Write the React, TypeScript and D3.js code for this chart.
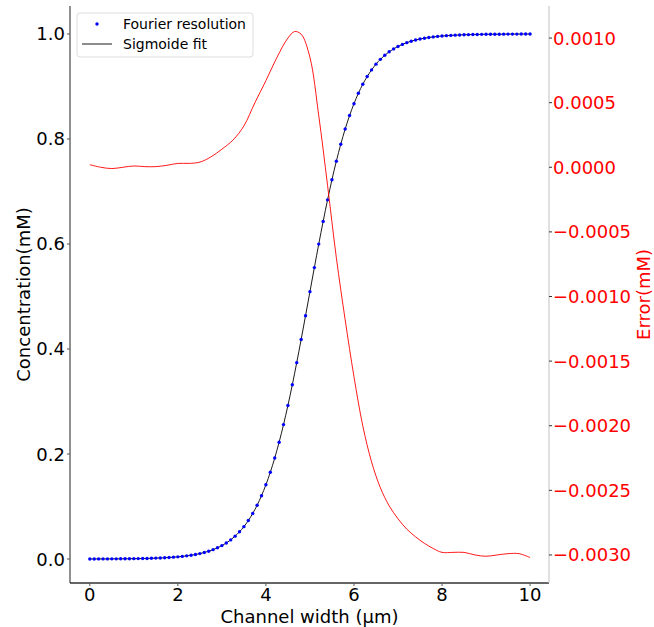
import React from "react";
import * as d3 from "d3";

// Sampling grid of the Fourier resolution (µm)
const xStart = 0;
const xStep = 0.1;

// Fourier resolution concentration (mM), one value per 0.1 µm from 0 to 10
const concentration = [
  0.0001, 0.0001, 0.0002, 0.0002, 0.0002, 0.0003, 0.0003, 0.0004, 0.0005, 0.0005,
  0.0007, 0.0008, 0.0010, 0.0011, 0.0014, 0.0017, 0.0020, 0.0024, 0.0029, 0.0035,
  0.0041, 0.0050, 0.0060, 0.0072, 0.0086, 0.0103, 0.0124, 0.0148, 0.0178, 0.0213,
  0.0255, 0.0305, 0.0364, 0.0435, 0.0518, 0.0616, 0.0732, 0.0867, 0.1024, 0.1206,
  0.1414, 0.1653, 0.1923, 0.2225, 0.2560, 0.2925, 0.3320, 0.3740, 0.4180, 0.4633,
  0.5092, 0.5550, 0.5998, 0.6430, 0.6841, 0.7224, 0.7578, 0.7899, 0.8189, 0.8446,
  0.8672, 0.8870, 0.9042, 0.9189, 0.9316, 0.9425, 0.9517, 0.9595, 0.9661, 0.9716,
  0.9763, 0.9802, 0.9835, 0.9862, 0.9885, 0.9904, 0.9920, 0.9933, 0.9944, 0.9954,
  0.9961, 0.9968, 0.9973, 0.9978, 0.9982, 0.9985, 0.9987, 0.9989, 0.9991, 0.9993,
  0.9994, 0.9995, 0.9996, 0.9996, 0.9997, 0.9998, 0.9998, 0.9998, 0.9999, 0.9999,
  0.9999,
];

// Sigmoide fit (mM) on the same grid
const sigmoidFit = concentration;

// Error curve (mM)
const errorX = [
  0, 0.25, 0.5, 0.75, 1.0, 1.25, 1.5, 1.75, 2.0, 2.25, 2.5, 2.75, 3.0, 3.25, 3.5,
  3.75, 4.0, 4.25, 4.5, 4.65, 4.8, 5.0, 5.2, 5.4, 5.6, 5.8, 6.0, 6.2, 6.4, 6.6,
  6.8, 7.0, 7.2, 7.4, 7.6, 7.8, 8.0, 8.25, 8.5, 8.75, 9.0, 9.25, 9.5, 9.75, 10.0,
];
const errorY = [
  0.00002, 0.0, -0.00001, 0.0, 0.00001, 0.000005, 0.000005, 0.000015, 0.00003,
  0.00003, 0.00004, 0.00008, 0.00014, 0.00021, 0.00032, 0.0005, 0.00067, 0.00085,
  0.001, 0.00105, 0.00103, 0.00085, 0.0004, -0.00014, -0.0007, -0.00118, -0.00162,
  -0.002, -0.00228, -0.00248, -0.00262, -0.00272, -0.00280, -0.00286, -0.00291,
  -0.00295, -0.00298, -0.00298, -0.00298, -0.003, -0.00301, -0.003, -0.00299,
  -0.00299, -0.00302,
];

const xTicks = [0, 2, 4, 6, 8, 10];
const leftTicks = [0.0, 0.2, 0.4, 0.6, 0.8, 1.0];
const rightTicks = [0.001, 0.0005, 0.0, -0.0005, -0.001, -0.0015, -0.002, -0.0025, -0.003];

const W = 654;
const H = 627;
const L = 70, R = 549, T = 6, B = 583;
const FONT = "DejaVu Sans, sans-serif";

export default function App() {
  const x = d3.scaleLinear().domain([-0.45, 10.43]).range([L, R]);
  const yL = d3.scaleLinear().domain([-0.0457, 1.0533]).range([B, T]);
  const yR = d3.scaleLinear().domain([-0.003217, 0.001248]).range([B, T]);

  const pts = concentration.map((c, i) => ({ x: xStart + i * xStep, y: c }));
  const fitPts = sigmoidFit.map((c, i) => ({ x: xStart + i * xStep, y: c }));
  const errPts = errorX.map((v, i) => ({ x: v, y: errorY[i] }));

  const fitLine = d3
    .line<{ x: number; y: number }>()
    .x((d) => x(d.x))
    .y((d) => yL(d.y))
    .curve(d3.curveMonotoneX);
  const errLine = d3
    .line<{ x: number; y: number }>()
    .x((d) => x(d.x))
    .y((d) => yR(d.y))
    .curve(d3.curveCatmullRom.alpha(0.5));

  const fmtL = d3.format(".1f");
  const fmtR = (v: number) => {
    const s = Math.abs(v).toFixed(4);
    return v < -1e-12 ? "\u2212" + s : s;
  };

  return (
    <svg
      width={W}
      height={H}
      style={{ position: "absolute", left: 0, top: 0, background: "#fff" }}
      fontFamily={FONT}
    >
      <rect x={0} y={0} width={W} height={H} fill="#fff" />

      {/* fit line */}
      <path d={fitLine(fitPts) || ""} fill="none" stroke="#000" strokeWidth={0.9} />
      {/* data points */}
      {pts.map((p, i) => (
        <circle key={i} cx={x(p.x)} cy={yL(p.y)} r={1.7} fill="#0000ff" />
      ))}
      {/* error curve */}
      <path d={errLine(errPts) || ""} fill="none" stroke="#ff0000" strokeWidth={0.9} />

      {/* spines */}
      <line x1={L} x2={L} y1={T} y2={B} stroke="#555" strokeWidth={1.3} />
      <line x1={L} x2={R} y1={B} y2={B} stroke="#333" strokeWidth={1.3} />
      <line x1={R} x2={R} y1={T} y2={B} stroke="#ccc" strokeWidth={1.2} />

      {/* x ticks */}
      {xTicks.map((t) => (
        <g key={"x" + t}>
          <line x1={x(t)} x2={x(t)} y1={B} y2={B + 3} stroke="#555" />
          <text x={x(t)} y={B + 18} textAnchor="middle" fontSize={18} fill="#000">
            {t}
          </text>
        </g>
      ))}
      {/* left ticks */}
      {leftTicks.map((t) => (
        <g key={"l" + t}>
          <line x1={L - 3} x2={L} y1={yL(t)} y2={yL(t)} stroke="#555" />
          <text x={L - 5} y={yL(t) + 6.5} textAnchor="end" fontSize={18} fill="#000">
            {fmtL(t)}
          </text>
        </g>
      ))}
      {/* right ticks */}
      {rightTicks.map((t) => (
        <g key={"r" + t}>
          <line x1={R} x2={R + 3} y1={yR(t)} y2={yR(t)} stroke="#333" />
          <text x={R + 4} y={yR(t) + 6.5} textAnchor="start" fontSize={18} fill="#ff0000">
            {fmtR(t)}
          </text>
        </g>
      ))}

      {/* axis titles */}
      <text x={(L + R) / 2} y={623} textAnchor="middle" fontSize={18} fill="#000">
        Channel width (μm)
      </text>
      <text
        transform={`translate(30, ${(T + B) / 2}) rotate(-90)`}
        textAnchor="middle"
        fontSize={18}
        fill="#000"
      >
        Concentration(mM)
      </text>
      <text
        transform={`translate(650, ${(T + B) / 2}) rotate(-90)`}
        textAnchor="middle"
        fontSize={18}
        fill="#ff0000"
      >
        Error(mM)
      </text>

      {/* legend */}
      <g>
        <rect x={77} y={13} width={176} height={44} rx={3} fill="#fff" fillOpacity={0.8} stroke="#ddd" />
        <circle cx={97} cy={24} r={1.7} fill="#0000ff" />
        <line x1={82} x2={112} y1={44} y2={44} stroke="#000" strokeWidth={0.9} />
        <text x={123} y={29} fontSize={14} fill="#000">
          Fourier resolution
        </text>
        <text x={123} y={49} fontSize={14} fill="#000">
          Sigmoide fit
        </text>
      </g>
    </svg>
  );
}
